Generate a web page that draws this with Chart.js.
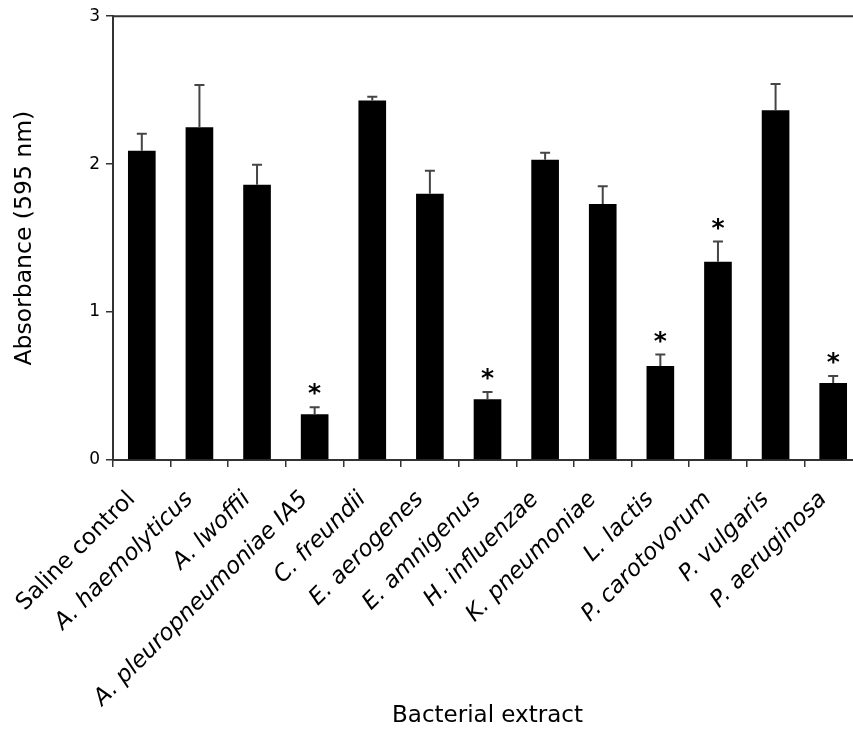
<!DOCTYPE html>
<html>
<head>
<meta charset="utf-8">
<script src="https://cdn.jsdelivr.net/npm/chart.js@4/dist/chart.umd.min.js"></script>
<style>
    html, body { margin: 0; padding: 0; background: #fff; overflow: hidden; }
    #wrap { width: 866px; height: 732px; }
</style>
</head>
<body>
<div id="wrap"><canvas id="chart" width="866" height="732"></canvas></div>
<script>
// Data
const extracts = [
    'Saline control', 'A. haemolyticus', 'A. lwoffii', 'A. pleuropneumoniae IA5',
    'C. freundii', 'E. aerogenes', 'E. amnigenus', 'H. influenzae',
    'K. pneumoniae', 'L. lactis', 'P. carotovorum', 'P. vulgaris', 'P. aeruginosa'
];
const absorbance = [2.09, 2.25, 1.86, 0.31, 2.43, 1.80, 0.41, 2.03, 1.73, 0.635, 1.34, 2.365, 0.52];
const errorUp = [0.115, 0.285, 0.135, 0.047, 0.026, 0.155, 0.05, 0.047, 0.12, 0.078, 0.137, 0.177, 0.047];
const significant = [false, false, false, true, false, false, true, false, false, true, true, false, true];
const yTicks = [0, 1, 2, 3];

const FONT = "'DejaVu Sans', Verdana, sans-serif";
const AXIS_COLOR = '#333';

// Upper error bars, asterisks and the top frame line
const errorBarPlugin = {
    id: 'errorBars',
    afterDatasetsDraw(chart) {
        const { ctx, chartArea, scales: { y } } = chart;
        const meta = chart.getDatasetMeta(0);
        ctx.save();

        // top frame
        ctx.strokeStyle = AXIS_COLOR;
        ctx.lineWidth = 2;
        ctx.beginPath();
        ctx.moveTo(chartArea.left, chartArea.top);
        ctx.lineTo(chartArea.right, chartArea.top);
        ctx.stroke();

        meta.data.forEach((bar, i) => {
            const x = bar.x;
            const yTop = y.getPixelForValue(absorbance[i] + errorUp[i]);
            ctx.strokeStyle = '#454545';
            ctx.lineWidth = 2;
            ctx.beginPath();
            ctx.moveTo(x, bar.y);
            ctx.lineTo(x, yTop);
            ctx.moveTo(x - 5, yTop);
            ctx.lineTo(x + 5, yTop);
            ctx.stroke();

            if (significant[i]) {
                ctx.fillStyle = '#000';
                ctx.font = 'bold 25px ' + FONT;
                ctx.textAlign = 'center';
                ctx.textBaseline = 'alphabetic';
                ctx.fillText('*', x, yTop - 6);
            }
        });
        ctx.restore();
    }
};

new Chart(document.getElementById('chart'), {
    type: 'bar',
    data: {
        labels: extracts,
        datasets: [{
            label: 'Absorbance',
            data: absorbance,
            backgroundColor: '#000',
            borderWidth: 0,
            barPercentage: 0.48,
            categoryPercentage: 1.0
        }]
    },
    options: {
        responsive: false,
        animation: false,
        devicePixelRatio: 1,
        layout: { padding: { top: 15, right: 4, left: 0, bottom: 0 } },
        plugins: {
            legend: { display: false },
            tooltip: { enabled: false }
        },
        scales: {
            x: {
                grid: {
                    offset: true,
                    drawOnChartArea: false,
                    drawTicks: true,
                    tickLength: 7,
                    tickColor: AXIS_COLOR,
                    lineWidth: 1.5
                },
                border: { display: true, color: AXIS_COLOR, width: 2 },
                ticks: {
                    autoSkip: false,
                    maxRotation: 45,
                    minRotation: 45,
                    padding: 19,
                    labelOffset: -10,
                    color: '#000',
                    font: (c) => ({
                        family: FONT,
                        size: 23,
                        style: c.index === 0 ? 'normal' : 'italic'
                    })
                },
                title: {
                    display: true,
                    text: 'Bacterial extract',
                    color: '#000',
                    font: { family: FONT, size: 23 },
                    padding: { top: 0, bottom: 2 }
                },
                afterFit: (scale) => {
                    scale.height = 272;
                    scale.paddingLeft = 0;
                    scale.paddingRight = 0;
                }
            },
            y: {
                min: 0,
                max: 3,
                afterBuildTicks: (scale) => {
                    scale.ticks = yTicks.map(v => ({ value: v }));
                },
                grid: {
                    drawOnChartArea: false,
                    drawTicks: true,
                    tickLength: 7,
                    tickColor: AXIS_COLOR,
                    lineWidth: 1.5
                },
                border: { display: true, color: AXIS_COLOR, width: 2 },
                ticks: {
                    padding: 6,
                    color: '#000',
                    font: { family: FONT, size: 17 }
                },
                title: {
                    display: true,
                    text: 'Absorbance (595 nm)',
                    color: '#000',
                    font: { family: FONT, size: 23.5 },
                    padding: { top: 11, bottom: 0 }
                },
                afterFit: (scale) => { scale.width = 113; }
            }
        }
    },
    plugins: [errorBarPlugin]
});
</script>
</body>
</html>
